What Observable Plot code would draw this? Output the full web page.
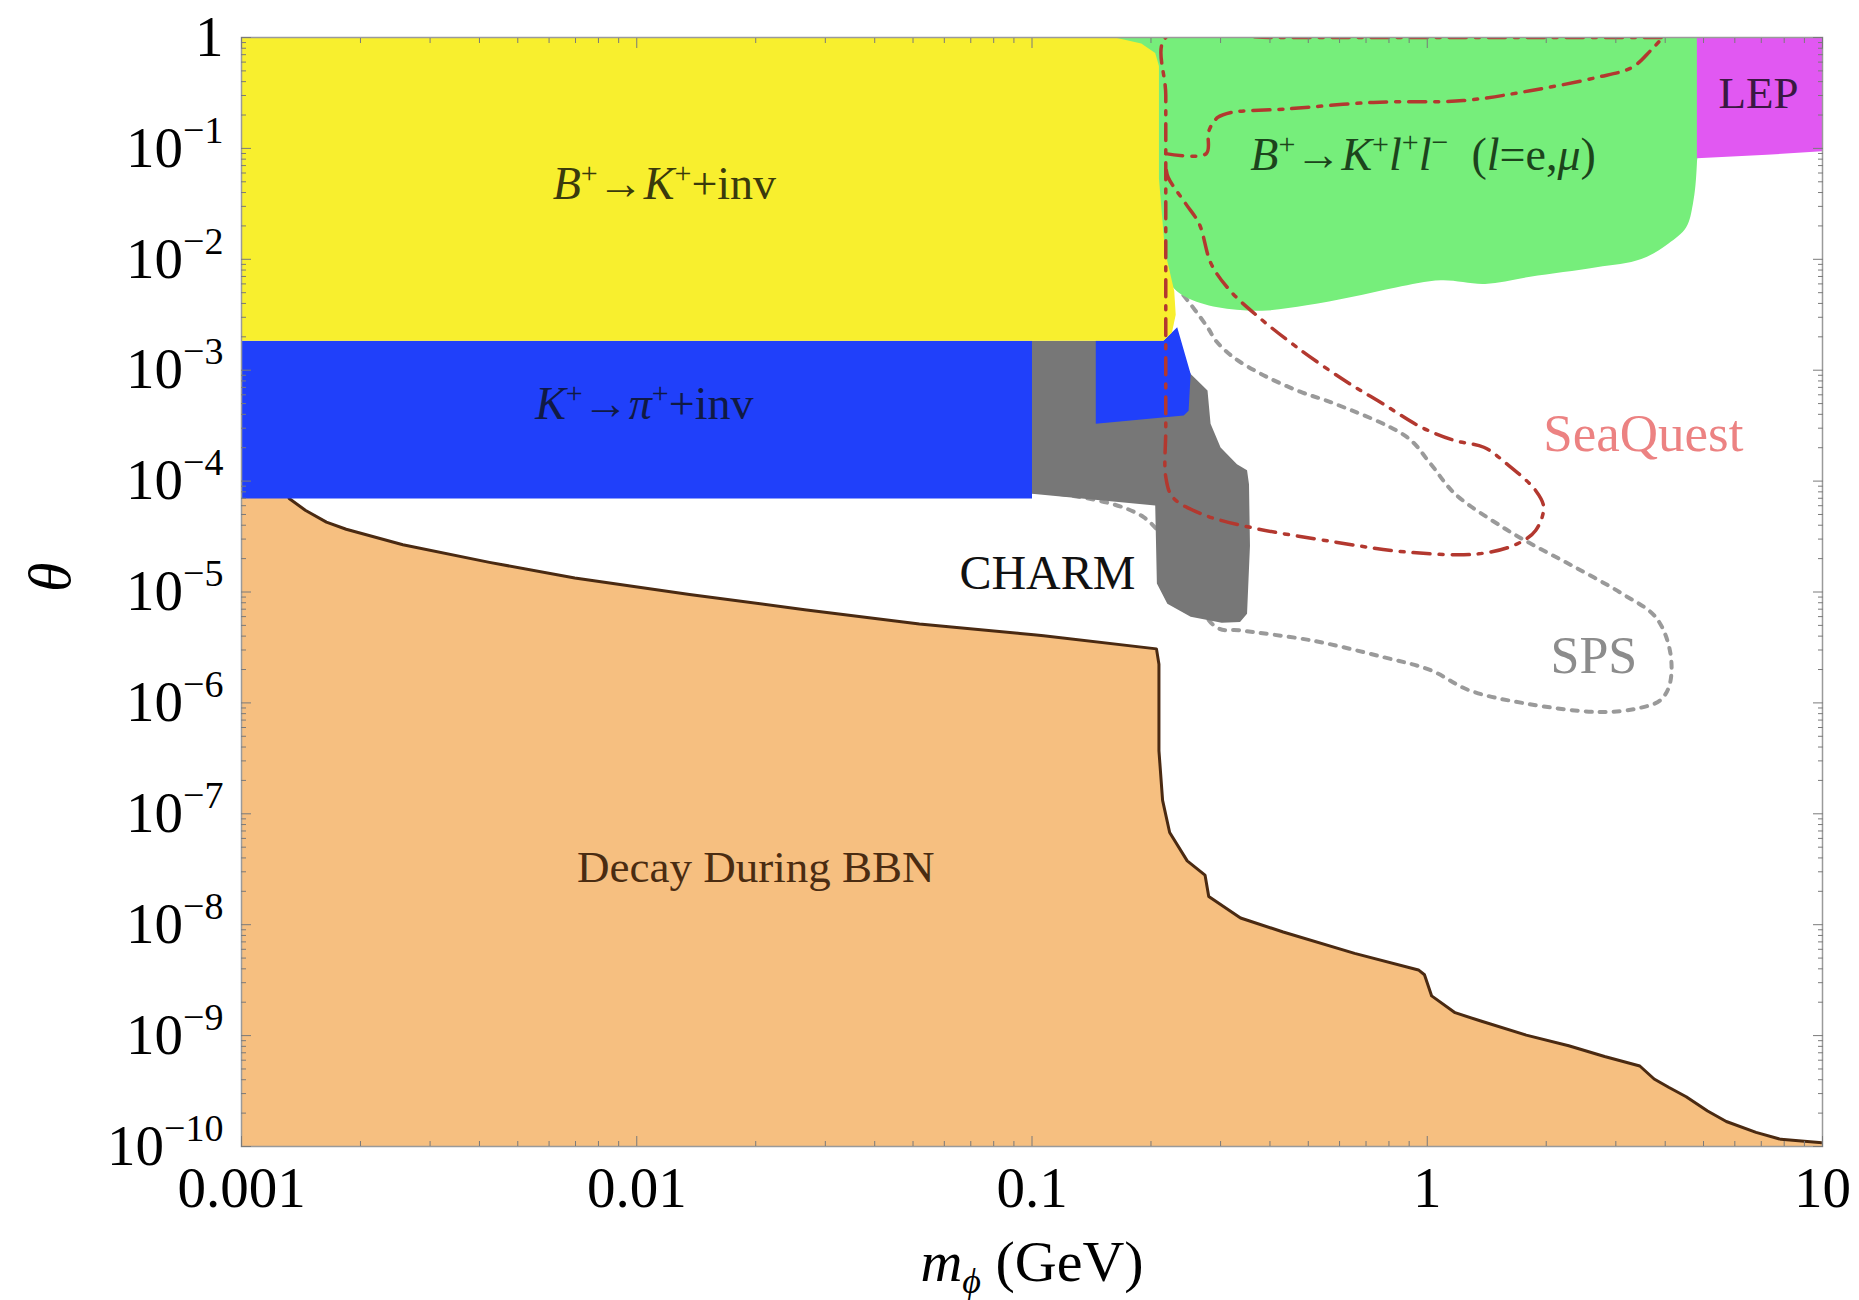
<!DOCTYPE html>
<html><head><meta charset="utf-8">
<script src="https://cdn.jsdelivr.net/npm/d3@7"></script>
<script src="https://cdn.jsdelivr.net/npm/@observablehq/plot@0.6"></script>
<style>body{margin:0;background:#fff;} svg{display:block;}</style>
</head><body>
<script>
// ---------- axis ticks ----------
const xTicks = [0.001, 0.01, 0.1, 1, 10];
const xTickLabels = ["0.001", "0.01", "0.1", "1", "10"];
const yTicks = [1, 1e-1, 1e-2, 1e-3, 1e-4, 1e-5, 1e-6, 1e-7, 1e-8, 1e-9, 1e-10];
const yTickLabels = ["1", "10^−1", "10^−2", "10^−3", "10^−4", "10^−5", "10^−6", "10^−7", "10^−8", "10^−9", "10^−10"];

// ---------- Decay During BBN (upper boundary) ----------
const bbnM = [0.001, 0.00132, 0.00145, 0.00164, 0.00184, 0.00256, 0.00424, 0.00697, 0.0136, 0.0266, 0.0519, 0.0933, 0.101, 0.107, 0.2065, 0.2095, 0.2095, 0.214, 0.223, 0.247, 0.274, 0.280, 0.337, 0.432, 0.655, 0.950, 0.984, 1.026, 1.176, 1.36, 1.78, 2.28, 2.81, 3.45, 3.75, 4.08, 4.52, 5.12, 5.71, 6.79, 7.85, 10];
const bbnTheta = [6.98e-5, 6.98e-5, 5.46e-5, 4.27e-5, 3.68e-5, 2.67e-5, 1.85e-5, 1.34e-5, 9.5e-6, 6.92e-6, 5.15e-6, 4.23e-6, 4.12e-6, 4.03e-6, 3.07e-6, 2.23e-6, 3.70e-7, 1.32e-7, 6.78e-8, 3.76e-8, 2.80e-8, 1.80e-8, 1.15e-8, 8.59e-9, 5.51e-9, 3.91e-9, 3.54e-9, 2.28e-9, 1.61e-9, 1.36e-9, 1.01e-9, 8.09e-10, 6.48e-10, 5.32e-10, 4.06e-10, 3.42e-10, 2.81e-10, 2.09e-10, 1.68e-10, 1.34e-10, 1.16e-10, 1.08e-10];

// ---------- B+ -> K+ + inv (yellow) ----------
const yellowM = [0.001, 0.162, 0.189, 0.205, 0.2095, 0.2095, 0.217, 0.229, 0.231, 0.226, 0.215, 0.001];
const yellowTheta = [1, 1, 0.884, 0.726, 0.554, 0.0535, 0.0119, 5.17e-3, 3.16e-3, 2.19e-3, 1.84e-3, 1.84e-3];

// ---------- K+ -> pi+ + inv (blue) ----------
const blueM = [0.001, 0.1, 0.1, 0.001];
const blueTheta = [1.84e-3, 1.84e-3, 6.98e-5, 6.98e-5];
const bluePieceM = [0.145, 0.215, 0.233, 0.252, 0.249, 0.242, 0.145];
const bluePieceTheta = [1.84e-3, 1.84e-3, 2.44e-3, 9.25e-4, 4.31e-4, 3.91e-4, 3.29e-4];

// ---------- CHARM (gray) ----------
const charmM = [0.1, 0.229, 0.252, 0.262, 0.278, 0.283, 0.300, 0.330, 0.350, 0.354, 0.356, 0.350, 0.336, 0.302, 0.252, 0.220, 0.207, 0.205, 0.1];
const charmTheta = [1.84e-3, 1.84e-3, 9.25e-4, 8.07e-4, 6.55e-4, 3.29e-4, 2.01e-4, 1.42e-4, 1.25e-4, 9.37e-5, 2.61e-5, 6.37e-6, 5.37e-6, 5.27e-6, 5.97e-6, 7.82e-6, 1.19e-5, 6.02e-5, 7.71e-5];

// ---------- B+ -> K+ l+ l- (green) ----------
const greenM = [0.15, 4.81, 4.81, 4.70, 4.52, 4.07, 3.48, 2.68, 1.82, 1.40, 1.083, 0.833, 0.643, 0.495, 0.382, 0.295, 0.245, 0.224, 0.220, 0.2, 0.19, 0.15];
const greenTheta = [1, 1, 0.0719, 0.0316, 0.0195, 0.01384, 0.01005, 8.46e-3, 6.95e-3, 6.0e-3, 6.46e-3, 5.57e-3, 4.57e-3, 3.85e-3, 3.44e-3, 3.69e-3, 4.57e-3, 6.0e-3, 7.86e-3, 0.0535, 0.554, 0.9];

// ---------- LEP (magenta) ----------
const lepM = [4.81, 10, 10, 7.23, 4.81];
const lepTheta = [1, 1, 0.0942, 0.0875, 0.0813];

// ---------- SeaQuest (dash-dot) ----------
const seaOuterM = [3.91, 2.0, 0.8, 0.4, 0.218, 0.218, 0.218, 0.218, 0.218, 0.218, 0.227, 0.268, 0.354, 0.585, 0.889, 1.35, 1.69, 1.88, 1.97, 1.88, 1.59, 1.39, 1.174, 0.966, 0.773, 0.618, 0.468, 0.375, 0.317, 0.284, 0.265, 0.245, 0.221, 0.218];
const seaOuterTheta = [1, 1, 1, 1, 1, 0.3, 0.03, 3e-3, 3e-4, 1.09e-4, 7.16e-5, 5.07e-5, 3.85e-5, 2.82e-5, 2.29e-5, 2.21e-5, 2.72e-5, 3.59e-5, 5.82e-5, 8.24e-5, 1.43e-4, 2.02e-4, 2.32e-4, 3.06e-4, 4.97e-4, 8.07e-4, 1.61e-3, 3.0e-3, 5.22e-3, 9.1e-3, 0.0208, 0.0316, 0.0549, 0.0685];
const seaInnerM = [0.218, 0.276, 0.280, 0.295, 0.319, 0.435, 0.731, 1.233, 1.82, 2.68, 3.30, 3.67, 3.91];
const seaInnerTheta = [0.0897, 0.0897, 0.143, 0.190, 0.211, 0.226, 0.260, 0.270, 0.331, 0.436, 0.538, 0.759, 0.968];

// ---------- SPS (dotted) ----------
const spsM = [0.1, 0.192, 0.292, 0.335, 0.509, 0.773, 1.02, 1.276, 1.78, 2.71, 3.38, 3.89, 4.11, 4.11, 3.78, 3.11, 2.36, 1.83, 1.55, 1.174, 1.02, 0.889, 0.585, 0.477, 0.385, 0.324, 0.292, 0.278, 0.240, 0.226];
const spsTheta = [8.09e-5, 4.71e-5, 4.83e-6, 4.51e-6, 3.66e-6, 2.59e-6, 1.97e-6, 1.30e-6, 9.86e-7, 8.28e-7, 8.87e-7, 1.06e-6, 1.49e-6, 2.98e-6, 5.96e-6, 9.66e-6, 1.68e-5, 2.72e-5, 3.85e-5, 7.71e-5, 1.43e-4, 2.49e-4, 4.97e-4, 6.40e-4, 9.02e-4, 1.30e-3, 1.84e-3, 2.44e-3, 4.88e-3, 6.14e-3];

// ---------- region labels ----------
const labelText = ["B⁺→K⁺+inv", "K⁺→π⁺+inv", "CHARM", "Decay During BBN", "SeaQuest", "SPS", "B⁺→K⁺l⁺l⁻ (l=e,μ)", "LEP"];
const labelM = [0.01175, 0.01045, 0.1094, 0.02, 3.52, 2.64, 0.976, 6.89];
const labelTheta = [0.0473, 4.88e-4, 1.45e-5, 3.24e-8, 2.64e-4, 2.65e-6, 0.0875, 0.315];
const xTitle = "mϕ (GeV)";
const yTitle = "θ";

// ---------- build ----------
const FONT = '"Liberation Serif", "Times New Roman", Times, serif';
const pts = (ms, ts) => ms.map((m, i) => ({m, t: ts[i]}));
const bbn = pts(bbnM, bbnTheta);

const minorX = [];
for (const d of [0.001, 0.01, 0.1, 1]) for (let k = 2; k <= 9; k++) minorX.push(d * k);
const minorY = [];
for (const d of [1e-10, 1e-9, 1e-8, 1e-7, 1e-6, 1e-5, 1e-4, 1e-3, 1e-2, 1e-1]) for (let k = 2; k <= 9; k++) minorY.push(d * k);

const sup = (s, size, shift) => `<tspan dy="-${shift}" font-size="${size}">${s}</tspan>`;
const it = s => `<tspan font-style="italic">${s}</tspan>`;
const back = (shift, s, style = "normal") => `<tspan dy="${shift}" font-style="${style}">${s}</tspan>`;
const rich = {};
rich[labelText[0]] = it("B") + sup("+", 30, 16) + back(16, "→") + it("K") + sup("+", 30, 16) + back(16, "+inv");
rich[labelText[1]] = it("K") + sup("+", 30, 16) + back(16, "→") + it("π") + sup("+", 30, 16) + back(16, "+inv");
rich[labelText[6]] = it("B") + sup("+", 30, 16) + back(16, "→") + it("K") + sup("+", 30, 16) + back(16, "l", "italic") +
  sup("+", 30, 18) + back(18, "l", "italic") + sup("−", 30, 18) + back(18, "\u00a0\u00a0(") + it("l") + "=e," + it("μ") + ")";
rich[xTitle] = it("m") + `<tspan font-style="italic" font-size="36" dy="12">ϕ</tspan>` + back(-12, " (GeV)");

const shape = (ms, ts, fill, curve = "linear-closed") =>
  Plot.line(pts(ms, ts), {x: "m", y: "t", fill, stroke: "none", curve, clip: true});
const label = (i, o) => Plot.text([i], {x: d => labelM[d], y: d => labelTheta[d], text: d => labelText[d], fontFamily: FONT, ...o});

const tickCol = "#7a7a7a";
const seaStyle = {x: "m", y: "t", stroke: "#b3382f", strokeWidth: 3.5, strokeDasharray: "17,9,4,9", curve: "catmull-rom", clip: true};
const svg = Plot.plot({
  width: 1859, height: 1300,
  marginLeft: 241, marginRight: 37, marginTop: 37, marginBottom: 154,
  style: {fontFamily: FONT, background: "#fff", color: "#000", overflow: "visible"},
  x: {type: "log", domain: [0.001, 10]},
  y: {type: "log", domain: [1e-10, 1]},
  marks: [
    Plot.areaY(bbn, {x: "m", y1: 1e-10, y2: "t", fill: "#f6bf80", clip: true}),
    Plot.line(bbn.slice(1), {x: "m", y: "t", stroke: "#4a2a12", strokeWidth: 3, clip: true}),
    Plot.line(pts(spsM, spsTheta), {x: "m", y: "t", stroke: "#9a9a9a", strokeWidth: 4, strokeDasharray: "6,8", curve: "catmull-rom", clip: true}),
    shape(greenM, greenTheta, "#76ee7b", "catmull-rom-closed"),
    shape(lepM, lepTheta, "#e158f2"),
    shape(charmM, charmTheta, "#777777"),
    shape(blueM, blueTheta, "#2040fa"),
    shape(bluePieceM, bluePieceTheta, "#2040fa"),
    shape(yellowM, yellowTheta, "#f8ef2e"),
    Plot.line(pts(seaOuterM, seaOuterTheta), seaStyle),
    Plot.line(pts(seaInnerM, seaInnerTheta), seaStyle),
    Plot.frame({stroke: "#9a9a9a", strokeWidth: 1.5}),
    // inward ticks on all four sides
    Plot.axisX({anchor: "top", ticks: xTicks, tickSize: -10, tickFormat: () => "", label: null, stroke: tickCol}),
    Plot.axisX({anchor: "top", ticks: minorX, tickSize: -5, tickFormat: () => "", label: null, stroke: tickCol}),
    Plot.axisX({anchor: "bottom", ticks: xTicks, tickSize: -10, tickFormat: () => "", label: null, stroke: tickCol}),
    Plot.axisX({anchor: "bottom", ticks: minorX, tickSize: -5, tickFormat: () => "", label: null, stroke: tickCol}),
    Plot.axisY({anchor: "right", ticks: yTicks, tickSize: -10, tickFormat: () => "", label: null, stroke: tickCol}),
    Plot.axisY({anchor: "right", ticks: minorY, tickSize: -5, tickFormat: () => "", label: null, stroke: tickCol}),
    Plot.axisY({anchor: "left", ticks: yTicks, tickSize: -10, tickFormat: () => "", label: null, stroke: tickCol}),
    Plot.axisY({anchor: "left", ticks: minorY, tickSize: -5, tickFormat: () => "", label: null, stroke: tickCol}),
    // tick labels
    Plot.axisX({anchor: "bottom", ticks: xTicks, tickSize: 0, tickPadding: 20, fontSize: 57, fill: "#000",
      tickFormat: d => xTickLabels[xTicks.indexOf(d)], label: null}),
    Plot.axisY({anchor: "left", ticks: yTicks, tickSize: 0, tickPadding: 18, fontSize: 57, fill: "#000",
      tickFormat: d => yTickLabels[yTicks.indexOf(d)], label: null}),
    // axis titles
    Plot.text([0], {frameAnchor: "bottom", text: () => xTitle, dy: 134, fontSize: 58, fill: "#000", fontFamily: FONT}),
    Plot.text([0], {frameAnchor: "left", text: () => yTitle, dx: -191, rotate: -90, fontSize: 60, fontStyle: "italic", fill: "#000", fontFamily: FONT}),
    // region labels
    label(0, {fontSize: 46, fill: "#3a3a0c"}),
    label(1, {fontSize: 46, fill: "#101a44"}),
    label(2, {fontSize: 48, fill: "#111"}),
    label(3, {fontSize: 45, fill: "#4a2c12"}),
    label(4, {fontSize: 53, fill: "#ec8282"}),
    label(5, {fontSize: 52, fill: "#8c8c8c"}),
    label(6, {fontSize: 46, fill: "#1c441c"}),
    label(7, {fontSize: 45, fill: "#3a1842"})
  ]
});

d3.select(svg).selectAll("text").each(function () {
  const t = this.textContent;
  if (rich[t]) { this.innerHTML = rich[t]; return; }
  const m = /^10\^(.+)$/.exec(t);
  if (m) this.innerHTML = "10" + `<tspan dy="-24" font-size="38">${m[1]}</tspan>`;
});
document.body.appendChild(svg);
</script>
</body></html>
